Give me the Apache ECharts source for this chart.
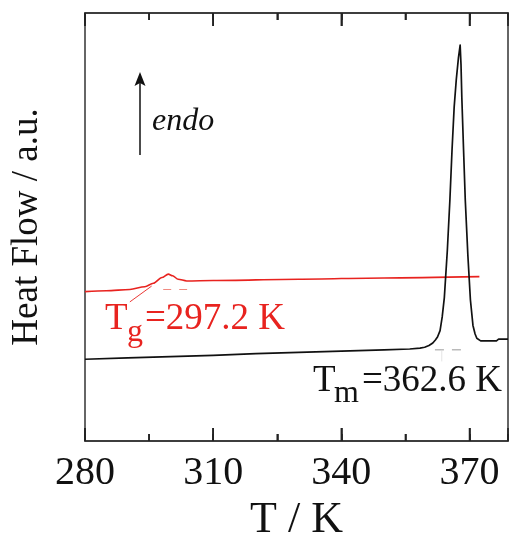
<!DOCTYPE html>
<html><head><meta charset="utf-8">
<script src="https://cdn.jsdelivr.net/npm/echarts@6/dist/echarts.min.js"></script>
<style>html,body{margin:0;padding:0;background:#fff}#c{width:509px;height:535px;background:#fff}</style>
</head><body><div id="c"></div>
<script>
// x tick labels / tick positions
const xTicks = [280, 310, 340, 370];
const xMinorTicks = [295, 325, 355];
// black curve (melting)
const blackT  = [280, 290, 300, 310, 320, 330, 340, 350, 356, 358.4, 359.5, 360.5, 361.4, 362.0, 362.5, 363.1, 363.6, 364.1, 364.8, 365.4, 365.9, 366.4, 366.9, 367.4, 367.8, 368.0, 368.2, 368.6, 369.0, 369.6, 370.2, 370.8, 371.3, 371.7, 372.1, 372.6, 376.3, 376.8, 379];
const blackHF = [19.1, 19.4, 19.7, 20.0, 20.4, 20.7, 21.0, 21.3, 21.5, 21.7, 21.9, 22.3, 22.9, 23.6, 24.3, 25.8, 29.0, 33.5, 44.5, 56.3, 68.0, 78.0, 84.5, 89.5, 92.5, 88.0, 80.0, 68.0, 56.3, 43.5, 33.0, 27.0, 25.0, 24.0, 23.6, 23.4, 23.4, 23.8, 23.8];
// red curve (glass transition)
const redT  = [280, 285, 290.5, 294, 296, 298, 299.5, 300.5, 301.8, 303.8, 310, 330, 350, 372.3];
const redHF = [34.9, 35.1, 35.4, 36.05, 36.85, 38.2, 39.0, 38.6, 37.8, 37.4, 37.5, 37.8, 38.1, 38.4];
// construction lines
const tgTangentT  = [290.5, 295.6];
const tgTangentHF = [32.5, 36.2];
const tgDashT  = [298.3, 303.9];
const tgDashHF = [35.4, 35.4];
const tmDashT  = [361.9, 368.1];
const tmDashHF = [21.3, 21.3];
const tmVertT  = [363.5, 363.5];
const tmVertHF = [21.3, 18.6];

const zip = (a, b) => a.map((v, i) => [v, b[i]]);
const serif = "'Liberation Serif','Times New Roman',serif";
const tickColor = '#222';

function xAx(pos, interval, len, labels) {
  const ax = {
    type: 'value', min: 280, max: 379, position: pos, interval: interval,
    axisLine: {show: true, onZero: false, lineStyle: {color: '#333', width: 1.5}},
    axisTick: {show: true, inside: true, length: len, lineStyle: {color: tickColor, width: 1.6}},
    axisLabel: labels ? {
      show: true, fontSize: 40, color: '#111', fontFamily: serif, margin: 12,
      formatter: v => xTicks.includes(v) ? String(v) : ''
    } : {show: false},
    splitLine: {show: false}
  };
  if (labels) {
    ax.name = 'T / K'; ax.nameLocation = 'middle'; ax.nameGap = 57;
    ax.nameTextStyle = {fontSize: 44, color: '#111', fontFamily: serif};
  }
  return ax;
}

// tick marks on bottom and top edges, placed through the x scale (own layer on top)
function tickSeries(vals, len) {
  return {
    type: 'custom', data: vals.map(v => [v, 0]), silent: true, zlevel: 1, z: 10, clip: false,
    renderItem: (params, api) => {
      const x = api.coord([api.value(0), 0])[0];
      const cs = params.coordSys;
      const st = {stroke: tickColor, lineWidth: 1.6};
      return {type: 'group', children: [
        {type: 'line', shape: {x1: x, y1: cs.y, x2: x, y2: cs.y + len}, style: st},
        {type: 'line', shape: {x1: x, y1: cs.y + cs.height, x2: x, y2: cs.y + cs.height - len}, style: st}
      ]};
    }
  };
}

const option = {
  animation: false,
  grid: {left: 85, right: 1, top: 13, bottom: 94, outerBoundsMode: 'none'},
  xAxis: [xAx('bottom', 30, 13, true), xAx('bottom', 15, 7, false), xAx('top', 30, 13, false), xAx('top', 15, 7, false)],
  yAxis: [
    {type: 'value', min: 0, max: 100, position: 'left',
     axisLine: {show: true, onZero: false, lineStyle: {color: '#333', width: 1.5}}, axisTick: {show: false}, axisLabel: {show: false}, splitLine: {show: false},
     name: 'Heat Flow / a.u.', nameLocation: 'middle', nameGap: 39, nameRotate: 90,
     nameTextStyle: {fontSize: 37, color: '#111', fontFamily: serif}},
    {type: 'value', min: 0, max: 100, position: 'right',
     axisLine: {show: true, onZero: false, lineStyle: {color: '#333', width: 1.5}}, axisTick: {show: false}, axisLabel: {show: false}, splitLine: {show: false}}
  ],
  series: [
    {type: 'line', data: zip(redT, redHF), symbol: 'none', smooth: 0.3, smoothMonotone: 'x', lineStyle: {color: '#e8231f', width: 1.6}},
    {type: 'line', data: zip(blackT, blackHF), symbol: 'none', smooth: false, lineStyle: {color: '#111', width: 1.7, join: 'round'}},
    {type: 'line', data: zip(tgTangentT, tgTangentHF), symbol: 'none', lineStyle: {color: '#e8231f', width: 0.9}},
    {type: 'line', data: zip(tgDashT, tgDashHF), symbol: 'none', lineStyle: {color: '#f08a80', width: 1, type: [8, 8]}},
    {type: 'line', data: zip(tmDashT, tmDashHF), symbol: 'none', lineStyle: {color: '#999', width: 1, type: [9, 8]}},
    {type: 'line', data: zip(tmVertT, tmVertHF), symbol: 'none', lineStyle: {color: '#ddd', width: 0.8}},
    tickSeries(xTicks, 13),
    tickSeries(xMinorTicks, 7)
  ],
  graphic: [
    {type: 'line', shape: {x1: 140, y1: 155, x2: 140, y2: 82}, style: {stroke: '#111', lineWidth: 1.5}},
    {type: 'polygon', shape: {points: [[140, 72], [134.5, 86], [140, 83], [145.5, 86]]}, style: {fill: '#111'}},
    {type: 'text', style: {text: 'endo', x: 152, y: 133 - 11, verticalAlign: 'middle', font: 'italic 32px ' + serif, fill: '#111'}},
    {type: 'text', style: {text: 'T', x: 105, y: 331 - 12, verticalAlign: 'middle', font: '37px ' + serif, fill: '#e8231f'}},
    {type: 'text', style: {text: 'g', x: 127, y: 343 - 10, verticalAlign: 'middle', font: '32px ' + serif, fill: '#e8231f'}},
    {type: 'text', style: {text: '=297.2 K', x: 145, y: 331 - 12, verticalAlign: 'middle', font: '37px ' + serif, fill: '#e8231f'}},
    {type: 'text', style: {text: 'T', x: 313, y: 393 - 12, verticalAlign: 'middle', font: '37px ' + serif, fill: '#111'}},
    {type: 'text', style: {text: 'm', x: 334, y: 404 - 10, verticalAlign: 'middle', font: '32px ' + serif, fill: '#111'}},
    {type: 'text', style: {text: '=362.6 K', x: 362, y: 393 - 12, verticalAlign: 'middle', font: '37px ' + serif, fill: '#111'}}
  ]
};
echarts.init(document.getElementById('c')).setOption(option);
</script></body></html>
